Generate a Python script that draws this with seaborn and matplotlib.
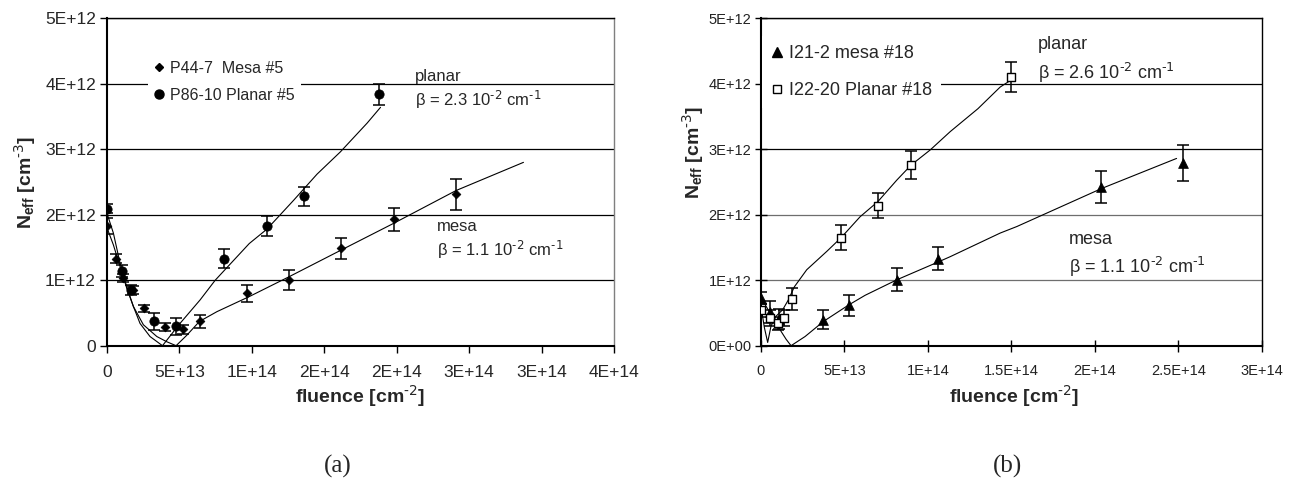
import matplotlib
matplotlib.use("Agg")
import matplotlib.pyplot as plt
from matplotlib.lines import Line2D
import numpy as np
import pandas as pd
import seaborn as sns

# ---------------- data (a): P44-7 mesa / P86-10 planar ----------------
a_planar_phi = [0, 1.06e13, 1.68e13, 3.25e13, 4.75e13, 8.09e13, 1.104e14, 1.362e14, 1.876e14]
a_planar_N = [2.09e12, 1.14e12, 0.85e12, 0.37e12, 0.30e12, 1.33e12, 1.83e12, 2.28e12, 3.84e12]
a_planar_err = [0.07e12, 0.09e12, 0.08e12, 0.13e12, 0.13e12, 0.14e12, 0.15e12, 0.145e12, 0.16e12]

a_mesa_phi = [0, 6.0e12, 1.13e13, 1.78e13, 2.53e13, 4.03e13, 5.23e13, 6.4e13, 9.66e13,
              1.254e14, 1.616e14, 1.98e14, 2.41e14]
a_mesa_N = [1.83e12, 1.33e12, 1.04e12, 0.85e12, 0.57e12, 0.29e12, 0.25e12, 0.37e12, 0.80e12,
            1.00e12, 1.49e12, 1.93e12, 2.31e12]
a_mesa_err = [0.12e12, 0.07e12, 0.06e12, 0.06e12, 0.05e12, 0.06e12, 0.07e12, 0.10e12, 0.13e12,
              0.15e12, 0.16e12, 0.18e12, 0.23e12]

a_planar_fit_phi = [0, 4.4e12, 9e12, 1.36e13, 1.82e13, 2.28e13, 2.97e13, 3.83e13, 5.0e13, 6.43e13,
                    7.47e13, 9.82e13, 1.104e14, 1.288e14, 1.45e14, 1.611e14, 1.796e14, 1.888e14]
a_planar_fit_N = [2.02e12, 1.72e12, 1.26e12, 0.90e12, 0.60e12, 0.34e12, 0.14e12, 0.0, 0.33e12, 0.70e12,
                  1.0e12, 1.56e12, 1.78e12, 2.22e12, 2.62e12, 2.96e12, 3.40e12, 3.64e12]

a_mesa_fit_phi = [0, 4.4e12, 9e12, 1.36e13, 1.82e13, 2.51e13, 3.44e13, 4.13e13, 4.77e13, 5.51e13,
                  6.38e13, 7.59e13, 9.82e13, 1.254e14, 1.616e14, 1.98e14, 2.41e14, 2.875e14]
a_mesa_fit_N = [1.80e12, 1.54e12, 1.21e12, 0.88e12, 0.60e12, 0.32e12, 0.14e12, 0.06e12, 0.0, 0.16e12,
                0.37e12, 0.52e12, 0.75e12, 1.05e12, 1.46e12, 1.87e12, 2.37e12, 2.80e12]

# ---------------- data (b): I21-2 mesa / I22-20 planar ----------------
b_mesa_phi = [0, 5.6e12, 1.1e13, 3.74e13, 5.26e13, 8.17e13, 1.063e14, 2.04e14, 2.53e14]
b_mesa_N = [0.73e12, 0.51e12, 0.41e12, 0.40e12, 0.62e12, 1.01e12, 1.33e12, 2.43e12, 2.79e12]
b_mesa_err = [0.09e12, 0.17e12, 0.15e12, 0.145e12, 0.16e12, 0.17e12, 0.17e12, 0.245e12, 0.28e12]

b_planar_phi = [0, 5.4e12, 1.0e13, 1.4e13, 1.84e13, 4.8e13, 7.0e13, 9.0e13, 1.5e14]
b_planar_N = [0.54e12, 0.42e12, 0.34e12, 0.42e12, 0.71e12, 1.65e12, 2.14e12, 2.76e12, 4.10e12]
b_planar_err = [0.10e12, 0.12e12, 0.10e12, 0.12e12, 0.17e12, 0.19e12, 0.19e12, 0.21e12, 0.23e12]

b_planar_fit_phi = [0, 2e12, 4e12, 6e12, 9e12, 1.3e13, 1.64e13, 2.0e13, 2.74e13, 3.94e13, 4.8e13,
                    5.94e13, 7.0e13, 8.14e13, 9.0e13, 1.014e14, 1.134e14, 1.3e14, 1.433e14, 1.5e14]
b_planar_fit_N = [0.60e12, 0.28e12, 0.05e12, 0.30e12, 0.45e12, 0.55e12, 0.70e12, 0.90e12, 1.16e12,
                  1.44e12, 1.65e12, 1.97e12, 2.20e12, 2.53e12, 2.76e12, 2.99e12, 3.27e12, 3.62e12,
                  3.95e12, 4.06e12]

b_mesa_fit_phi = [0, 4e12, 8.4e12, 1.2e13, 1.5e13, 1.8e13, 2.64e13, 3.74e13, 5.24e13, 6.24e13,
                  8.17e13, 1.063e14, 1.134e14, 1.433e14, 1.533e14, 2.04e14, 2.49e14]
b_mesa_fit_N = [0.74e12, 0.56e12, 0.39e12, 0.22e12, 0.10e12, 0.0, 0.14e12, 0.37e12, 0.62e12,
                0.77e12, 1.01e12, 1.28e12, 1.36e12, 1.72e12, 1.82e12, 2.40e12, 2.86e12]

# ---------------- tick labels ----------------
a_xticks = [0, 5e13, 1e14, 1.5e14, 2e14, 2.5e14, 3e14, 3.5e14]
a_xticklabels = ["0", "5E+13", "1E+14", "2E+14", "2E+14", "3E+14", "3E+14", "4E+14"]
a_yticks = [0, 1e12, 2e12, 3e12, 4e12, 5e12]
a_yticklabels = ["0", "1E+12", "2E+12", "3E+12", "4E+12", "5E+12"]

b_xticks = [0, 5e13, 1e14, 1.5e14, 2e14, 2.5e14, 3e14]
b_xticklabels = ["0", "5E+13", "1E+14", "1.5E+14", "2E+14", "2.5E+14", "3E+14"]
b_yticks = [0, 1e12, 2e12, 3e12, 4e12, 5e12]
b_yticklabels = ["0E+00", "1E+12", "2E+12", "3E+12", "4E+12", "5E+12"]

# ---------------- style ----------------
sns.set_theme(style="white")
plt.rcParams["font.family"] = ["Liberation Sans", "DejaVu Sans"]
plt.rcParams["mathtext.default"] = "regular"
plt.rcParams["axes.unicode_minus"] = False

W, H = 1297, 488
fig = plt.figure(figsize=(W / 100, H / 100), dpi=100)
fig.patch.set_facecolor("white")


def px_axes(x0, x1, ytop, ybot):
    return fig.add_axes([x0 / W, 1 - ybot / H, (x1 - x0) / W, (ybot - ytop) / H])


axA = px_axes(107, 614, 18.3, 345.7)
axB = px_axes(761, 1261.7, 18.3, 345.7)


def draw_series(ax, phi, N, err, marker, s, face, lw_edge):
    ax.errorbar(phi, N, yerr=err, fmt="none", ecolor="black", elinewidth=1.1,
                capsize=4.5, capthick=1.1, zorder=3)
    sns.scatterplot(x=phi, y=N, marker=marker, s=s, color=face, edgecolor="black",
                    linewidth=lw_edge, ax=ax, zorder=4, legend=False)


def draw_fit(ax, phi, N):
    sns.lineplot(x=phi, y=N, sort=False, estimator=None, color="black", lw=0.8,
                 ax=ax, zorder=2, legend=False)


# ---- panel (a) ----
draw_fit(axA, a_planar_fit_phi, a_planar_fit_N)
draw_fit(axA, a_mesa_fit_phi, a_mesa_fit_N)
draw_series(axA, a_planar_phi, a_planar_N, a_planar_err, "o", 45, "black", 0.5)
draw_series(axA, a_mesa_phi, a_mesa_N, a_mesa_err, "D", 20, "black", 0.5)

axA.set_xlim(0, 3.5e14)
axA.set_ylim(0, 5e12)
axA.set_xticks(a_xticks)
axA.set_xticklabels(a_xticklabels, fontsize=12.5)
axA.set_yticks(a_yticks)
axA.set_yticklabels(a_yticklabels, fontsize=12.5)
axA.tick_params(axis="both", direction="out", length=5, width=1, color="black", pad=3, bottom=True, left=True)
axA.tick_params(axis="x", pad=9)

# ---- panel (b) ----
draw_fit(axB, b_planar_fit_phi, b_planar_fit_N)
draw_fit(axB, b_mesa_fit_phi, b_mesa_fit_N)
draw_series(axB, b_mesa_phi, b_mesa_N, b_mesa_err, "^", 50, "black", 0.5)
draw_series(axB, b_planar_phi, b_planar_N, b_planar_err, "s", 38, "white", 1.0)

axB.set_xlim(0, 3e14)
axB.set_ylim(0, 5e12)
axB.set_xticks(b_xticks)
axB.set_xticklabels(b_xticklabels, fontsize=10.5, color="#222222")
axB.set_yticks(b_yticks)
axB.set_yticklabels(b_yticklabels, fontsize=10.5, color="#222222")
axB.tick_params(axis="both", direction="inout", length=8, width=1, color="black", pad=3, bottom=True, left=True)
axB.tick_params(axis="x", pad=9)

for ax in (axA, axB):
    ax.set_axisbelow(True)
    ax.yaxis.grid(True, color="black", lw=0.9)
    ax.xaxis.grid(False)
    for side in ("left", "bottom"):
        ax.spines[side].set_color("black")
        ax.spines[side].set_linewidth(1.5)
    ax.spines["top"].set_color("black")
    ax.spines["top"].set_linewidth(1.0)
    ax.spines["right"].set_linewidth(1.0)
    ax.set_xlabel(r"fluence [cm$^{\text{-2}}$]", fontsize=14, fontweight="bold")
    ax.set_ylabel(r"N$_{eff}$ [cm$^{\text{-3}}$]", fontsize=14, fontweight="bold")

axA.spines["right"].set_color("#7f7f7f")
axB.spines["right"].set_color("black")
for i, gl in enumerate(axB.get_ygridlines()):
    if i in (1, 2):
        gl.set_color("#6e6e6e")

axA.xaxis.set_label_coords(0.5, -0.115)
axB.xaxis.set_label_coords(0.505, -0.115)
axA.yaxis.set_label_coords(-0.136, 0.50)
axB.yaxis.set_label_coords(-0.11, 0.589)

# legends
hA = [Line2D([], [], marker="D", ls="none", color="black", markersize=4.4),
      Line2D([], [], marker="o", ls="none", color="black", markersize=6.5)]
legA = axA.legend(hA, ["P44-7  Mesa #5", "P86-10 Planar #5"], loc="upper left",
                  bbox_to_anchor=(0.081, 0.89), frameon=True, facecolor="white",
                  edgecolor="none", framealpha=1, fancybox=False, fontsize=11.5,
                  borderpad=0.4, handlelength=0.6, handletextpad=0.4, labelspacing=0.75,
                  borderaxespad=0)
legA.set_zorder(5)

hB = [Line2D([], [], marker="^", ls="none", color="black", markersize=6.5),
      Line2D([], [], marker="s", ls="none", markerfacecolor="white", markeredgecolor="black",
             markeredgewidth=1.0, markersize=5.5)]
legB = axB.legend(hB, ["I21-2 mesa #18", "I22-20 Planar #18"], loc="upper left",
                  bbox_to_anchor=(0.002, 0.945), frameon=True, facecolor="white",
                  edgecolor="none", framealpha=1, fancybox=False, fontsize=13,
                  borderpad=0.5, handlelength=0.63, handletextpad=0.38, labelspacing=1.1,
                  borderaxespad=0)
legB.set_zorder(5)

# annotations
axA.text(0.6075, 0.8216, "planar", transform=axA.transAxes, fontsize=12, va="center", ha="left")
axA.text(0.6075, 0.7505, r"β = 2.3 10$^{\text{-2}}$ cm$^{\text{-1}}$", transform=axA.transAxes,
         fontsize=12, va="center", ha="left")
axA.text(0.650, 0.3626, "mesa", transform=axA.transAxes, fontsize=12, va="center", ha="left")
axA.text(0.650, 0.2923, r"β = 1.1 10$^{\text{-2}}$ cm$^{\text{-1}}$", transform=axA.transAxes,
         fontsize=12, va="center", ha="left")

axB.text(0.5532, 0.9185, "planar", transform=axB.transAxes, fontsize=13, va="center", ha="left")
axB.text(0.5532, 0.8338, r"β = 2.6 10$^{\text{-2}}$ cm$^{\text{-1}}$", transform=axB.transAxes,
         fontsize=13, va="center", ha="left")
axB.text(0.6151, 0.3229, "mesa", transform=axB.transAxes, fontsize=13, va="center", ha="left")
axB.text(0.6151, 0.2413, r"β = 1.1 10$^{\text{-2}}$ cm$^{\text{-1}}$", transform=axB.transAxes,
         fontsize=13, va="center", ha="left")

# panel captions
fig.text(338 / W, 1 - 466 / H, "(a)", fontsize=18, family=["Liberation Serif", "DejaVu Serif"],
         ha="center", va="center")
fig.text(1008 / W, 1 - 466 / H, "(b)", fontsize=18, family=["Liberation Serif", "DejaVu Serif"],
         ha="center", va="center")

fig.savefig("out.png", dpi=100, facecolor="white")
